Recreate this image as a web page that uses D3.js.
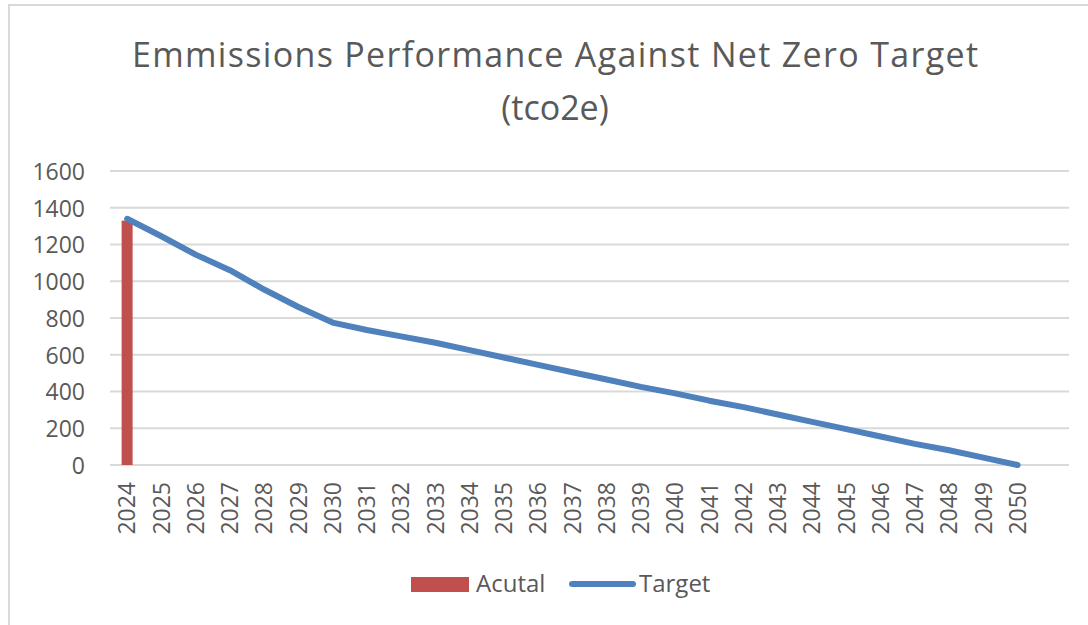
<!DOCTYPE html>
<html>
<head>
<meta charset="utf-8">
<title>Emmissions Performance</title>
<script src="https://cdn.jsdelivr.net/npm/d3@7"></script>
<style>
  body { margin: 0; background: #ffffff; }
  text { font-family: "Open Sans", "Liberation Sans", sans-serif; fill: #595959; }
</style>
</head>
<body>
<script>

// Chart values
var years = ["2024", "2025", "2026", "2027", "2028", "2029", "2030", "2031", "2032",
             "2033", "2034", "2035", "2036", "2037", "2038", "2039", "2040", "2041",
             "2042", "2043", "2044", "2045", "2046", "2047", "2048", "2049", "2050"];
var actual = [1330, null, null, null, null, null, null, null, null,
              null, null, null, null, null, null, null, null, null,
              null, null, null, null, null, null, null, null, null];
var target = [1340, 1245, 1145, 1060, 955, 860, 775, 735, 700,
              665, 625, 585, 545, 505, 465, 425, 390, 350,
              315, 275, 235, 195, 155, 115, 80, 40, 0];
var yTicks = [0, 200, 400, 600, 800, 1000, 1200, 1400, 1600];
var seriesNames = ["Acutal", "Target"];
var titleLines = ["Emmissions Performance Against Net Zero Target", "(tco2e)"];

var data = years.map(function(y, i) {
  return {"Year": y, "Actual": actual[i], "Target": target[i]};
});

// Size of page and plot area
var width = 1088;
var height = 625;
var plot = {left: 110, right: 1069, top: 171, bottom: 465};

var svg = d3.select("body")
            .append("svg")
            .attr("width", width)
            .attr("height", height);

// Chart border (runs off the right and bottom of the picture)
svg.append("rect")
    .attr("x", 9)
    .attr("y", 5)
    .attr("width", width + 20)
    .attr("height", height + 20)
    .attr("fill", "none")
    .attr("stroke", "#d9d9d9")
    .attr("stroke-width", 2);

// Scales, the last slot of the category axis is left empty
var xScale = d3.scaleBand()
               .domain(years.concat([" "]))
               .range([plot.left, plot.right]);
var yScale = d3.scaleLinear()
               .domain([0, 1600])
               .range([plot.bottom, plot.top]);

function xMid(d) { return xScale(d) + xScale.bandwidth() / 2; }

// Gridlines
svg.append("g")
    .selectAll("line")
    .data(yTicks)
    .enter()
    .append("line")
    .attr("x1", plot.left)
    .attr("x2", plot.right)
    .attr("y1", function(d) { return yScale(d); })
    .attr("y2", function(d) { return yScale(d); })
    .attr("stroke", "#d9d9d9")
    .attr("stroke-width", 2);

// Y axis labels
var yAxis = d3.axisLeft(yScale)
              .tickValues(yTicks)
              .tickSize(0)
              .tickPadding(0)
              .tickFormat(function(d) { return d; });
var gy = svg.append("g")
    .attr("transform", "translate(85,0)")
    .call(yAxis);
gy.select(".domain").remove();
gy.selectAll("text")
    .attr("x", 0)
    .attr("dy", "0.36em")
    .style("font-size", "23px")
    .attr("fill", "#595959");

// X axis labels, rotated
var xAxis = d3.axisBottom(xScale)
              .tickValues(years)
              .tickSize(0)
              .tickPadding(0);
var gx = svg.append("g")
    .attr("transform", "translate(0," + plot.bottom + ")")
    .call(xAxis);
gx.select(".domain").remove();
gx.selectAll("text")
    .attr("transform", "rotate(-90)")
    .attr("x", -17)
    .attr("y", 0)
    .attr("dy", "0.36em")
    .style("text-anchor", "end")
    .style("font-size", "23px")
    .attr("fill", "#595959");

// Actual bars
var barWidth = 11;
svg.append("g")
    .selectAll("rect")
    .data(data.filter(function(d) { return d.Actual != null; }))
    .enter()
    .append("rect")
    .attr("x", function(d) { return xMid(d.Year) - barWidth / 2; })
    .attr("y", function(d) { return yScale(d.Actual); })
    .attr("width", barWidth)
    .attr("height", function(d) { return yScale(0) - yScale(d.Actual); })
    .attr("fill", "#c0504d");

// Target line
var line = d3.line()
             .x(function(d) { return xMid(d.Year); })
             .y(function(d) { return yScale(d.Target); });
svg.append("path")
    .datum(data)
    .attr("d", line)
    .attr("fill", "none")
    .attr("stroke", "#4f81bd")
    .attr("stroke-width", 6)
    .attr("stroke-linejoin", "round")
    .attr("stroke-linecap", "round");

// Title
svg.append("text")
    .attr("x", 555)
    .attr("y", 67)
    .attr("textLength", 846)
    .attr("lengthAdjust", "spacing")
    .style("text-anchor", "middle")
    .style("font-size", "34px")
    .text(titleLines[0]);
svg.append("text")
    .attr("x", 555)
    .attr("y", 120)
    .style("text-anchor", "middle")
    .style("font-size", "34px")
    .text(titleLines[1]);

// Legend
svg.append("rect")
    .attr("x", 411)
    .attr("y", 577)
    .attr("width", 58)
    .attr("height", 15)
    .attr("fill", "#c0504d");
svg.append("text")
    .attr("x", 476)
    .attr("y", 592)
    .style("font-size", "24px")
    .text(seriesNames[0]);
svg.append("line")
    .attr("x1", 572)
    .attr("x2", 633)
    .attr("y1", 584)
    .attr("y2", 584)
    .attr("stroke", "#4f81bd")
    .attr("stroke-width", 6)
    .attr("stroke-linecap", "round");
svg.append("text")
    .attr("x", 639)
    .attr("y", 592)
    .style("font-size", "24px")
    .text(seriesNames[1]);

</script>
</body>
</html>
